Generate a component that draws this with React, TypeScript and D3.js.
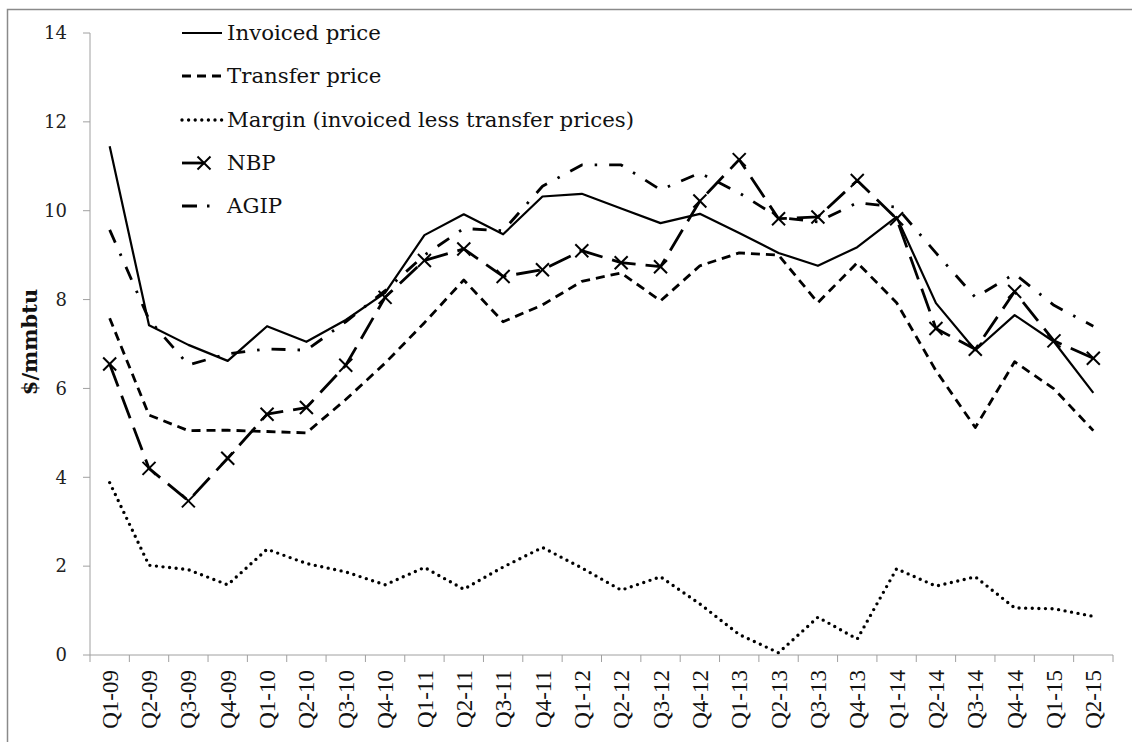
import React from "react";
import * as d3 from "d3";

const categories = [
  "Q1-09", "Q2-09", "Q3-09", "Q4-09",
  "Q1-10", "Q2-10", "Q3-10", "Q4-10",
  "Q1-11", "Q2-11", "Q3-11", "Q4-11",
  "Q1-12", "Q2-12", "Q3-12", "Q4-12",
  "Q1-13", "Q2-13", "Q3-13", "Q4-13",
  "Q1-14", "Q2-14", "Q3-14", "Q4-14",
  "Q1-15", "Q2-15",
];

const invoiced = [11.45, 7.42, 6.98, 6.62, 7.4, 7.05, 7.54, 8.15, 9.45, 9.92, 9.47, 10.32, 10.38, 10.05, 9.72, 9.93, 9.5, 9.05, 8.76, 9.18, 9.86, 7.92, 6.86, 7.65, 7.05, 5.9];
const transfer = [7.58, 5.4, 5.05, 5.06, 5.03, 5.0, 5.75, 6.57, 7.48, 8.44, 7.5, 7.88, 8.41, 8.6, 7.97, 8.76, 9.05, 9.0, 7.93, 8.83, 7.93, 6.4, 5.12, 6.6, 5.99, 5.05];
const margin = [3.88, 2.02, 1.92, 1.58, 2.38, 2.06, 1.87, 1.58, 1.97, 1.48, 1.98, 2.42, 1.96, 1.46, 1.76, 1.15, 0.46, 0.05, 0.85, 0.36, 1.94, 1.55, 1.76, 1.06, 1.04, 0.87];
const nbp = [6.55, 4.2, 3.47, 4.43, 5.42, 5.57, 6.52, 8.05, 8.88, 9.14, 8.52, 8.67, 9.1, 8.83, 8.74, 10.22, 11.15, 9.82, 9.86, 10.68, 9.82, 7.35, 6.88, 8.18, 7.07, 6.68];
const agip = [9.57, 7.55, 6.53, 6.78, 6.89, 6.86, 7.5, 8.2, 9.0, 9.6, 9.55, 10.55, 11.03, 11.03, 10.47, 10.85, 10.4, 9.85, 9.75, 10.18, 10.08, 9.05, 8.05, 8.58, 7.87, 7.4];

const yTicks = [0, 2, 4, 6, 8, 10, 12, 14];

const legendLabels = [
  "Invoiced price",
  "Transfer price",
  "Margin (invoiced less transfer prices)",
  "NBP",
  "AGIP",
];

const W = 1132;
const H = 742;
const left = 90;
const right = 1113;
const top = 33;
const bottom = 655;

const serif = "'DejaVu Serif', Georgia, serif";
const timesFont = "'Liberation Serif', 'Times New Roman', serif";

const styles = [
  { width: 2.2, dash: "none", cap: "butt" },
  { width: 2.8, dash: "9 6", cap: "butt" },
  { width: 3.4, dash: "0 6.6", cap: "round" },
  { width: 2.8, dash: "24 10", cap: "butt" },
  { width: 2.8, dash: "14 12 2.5 12", cap: "butt" },
];

export default function App() {
  const x = d3.scaleBand<string>().domain(categories).range([left, right]);
  const y = d3.scaleLinear().domain([0, 14]).range([bottom, top]);
  const cx = (c: string) => (x(c) as number) + x.bandwidth() / 2;

  const line = d3
    .line<number>()
    .x((_, i) => cx(categories[i]))
    .y((v) => y(v));

  const series = [invoiced, transfer, margin, nbp, agip];

  const boundaries = categories.map((c) => x(c) as number).concat([right]);

  const legendY = [33, 76, 120, 163, 206];
  const mk = 6.5;

  const cross = (px: number, py: number, key: string) => (
    <g key={key} stroke="#000" strokeWidth={2}>
      <line x1={px - mk} y1={py - mk} x2={px + mk} y2={py + mk} />
      <line x1={px - mk} y1={py + mk} x2={px + mk} y2={py - mk} />
    </g>
  );

  return (
    <svg
      width={W}
      height={H}
      style={{ position: "absolute", left: 0, top: 0, background: "#fff" }}
    >
      <rect x={0} y={0} width={W} height={H} fill="#fff" />
      <rect x={7.5} y={9.5} width={W + 50} height={H + 50} fill="none" stroke="#8a8a8a" strokeWidth={1.5} />

      {/* y axis */}
      <line x1={left} y1={top} x2={left} y2={bottom} stroke="#a0a0a0" strokeWidth={1} />
      {yTicks.map((t) => (
        <g key={"yt" + t}>
          <line x1={left - 7} y1={y(t)} x2={left} y2={y(t)} stroke="#a0a0a0" strokeWidth={1} />
          <text
            x={67}
            y={y(t)}
            dy="0.35em"
            textAnchor="end"
            fontFamily={serif}
            fontSize={18}
            fill="#222"
          >
            {t}
          </text>
        </g>
      ))}

      {/* x axis */}
      <line x1={left} y1={bottom} x2={right} y2={bottom} stroke="#a0a0a0" strokeWidth={1} />
      {boundaries.map((b, i) => (
        <line key={"xt" + i} x1={b} y1={bottom} x2={b} y2={bottom + 7} stroke="#a0a0a0" strokeWidth={1} />
      ))}
      {categories.map((c) => (
        <text
          key={"xl" + c}
          transform={`translate(${cx(c)},${670}) rotate(-90)`}
          dy="0.35em"
          textAnchor="end"
          fontFamily={timesFont}
          fontSize={23}
          fill="#111"
        >
          {c}
        </text>
      ))}

      {/* y label */}
      <text
        transform={`translate(30,${342}) rotate(-90)`}
        dy="0.35em"
        textAnchor="middle"
        fontFamily={serif}
        fontWeight="bold"
        fontSize={21}
        fill="#111"
      >
        $/mmbtu
      </text>

      {/* series */}
      {series.map((s, k) => (
        <path
          key={"s" + k}
          d={line(s) || ""}
          fill="none"
          stroke="#000"
          strokeWidth={styles[k].width}
          strokeDasharray={styles[k].dash}
          strokeLinecap={styles[k].cap as any}
          strokeLinejoin="round"
        />
      ))}
      {nbp.map((v, i) => cross(cx(categories[i]), y(v), "m" + i))}

      {/* legend */}
      {legendLabels.map((lab, k) => {
        const ly = legendY[k];
        const x2 = k === 3 ? 204 : k === 4 ? 211 : 222;
        return (
          <g key={"lg" + k}>
            <line
              x1={182}
              y1={ly}
              x2={x2}
              y2={ly}
              stroke="#000"
              strokeWidth={styles[k].width}
              strokeDasharray={k === 3 ? "none" : k === 4 ? "15 10 2.5 10" : styles[k].dash}
              strokeLinecap={styles[k].cap as any}
            />
            {k === 3 ? cross(204, ly, "lgm") : null}
            <text
              x={227}
              y={ly}
              dy="0.35em"
              fontFamily={serif}
              fontSize={21.3}
              fill="#111"
            >
              {lab}
            </text>
          </g>
        );
      })}
    </svg>
  );
}
